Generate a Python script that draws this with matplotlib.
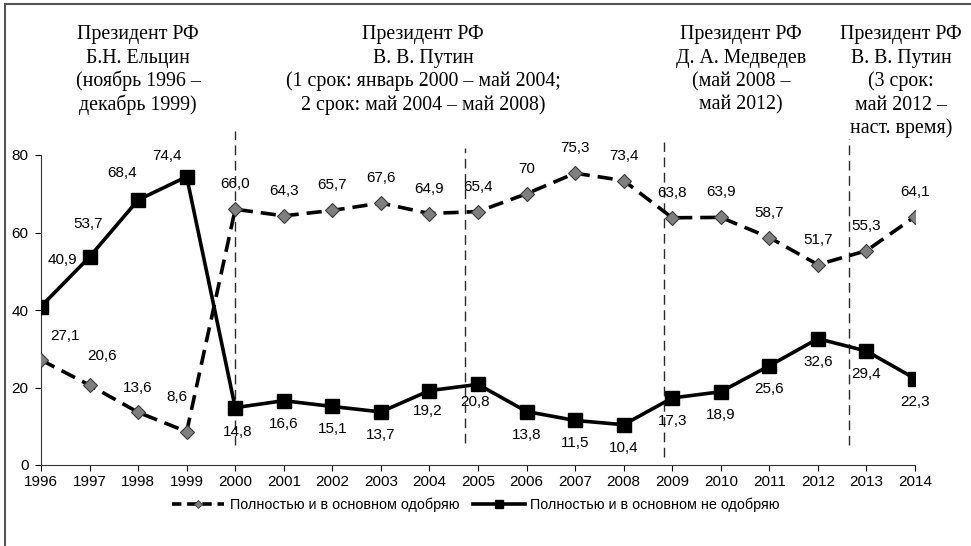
import matplotlib
matplotlib.use("Agg")
import matplotlib.pyplot as plt
from matplotlib.lines import Line2D
import numpy as np

years = ["1996", "1997", "1998", "1999", "2000", "2001", "2002", "2003", "2004", "2005",
         "2006", "2007", "2008", "2009", "2010", "2011", "2012", "2013", "2014"]
approve = [27.1, 20.6, 13.6, 8.6, 66.0, 64.3, 65.7, 67.6, 64.9, 65.4,
           70.0, 75.3, 73.4, 63.8, 63.9, 58.7, 51.7, 55.3, 64.1]
approve_labels = ["27,1", "20,6", "13,6", "8,6", "66,0", "64,3", "65,7", "67,6", "64,9", "65,4",
                  "70", "75,3", "73,4", "63,8", "63,9", "58,7", "51,7", "55,3", "64,1"]
disapprove = [40.9, 53.7, 68.4, 74.4, 14.8, 16.6, 15.1, 13.7, 19.2, 20.8,
              13.8, 11.5, 10.4, 17.3, 18.9, 25.6, 32.6, 29.4, 22.3]
disapprove_labels = ["40,9", "53,7", "68,4", "74,4", "14,8", "16,6", "15,1", "13,7", "19,2", "20,8",
                     "13,8", "11,5", "10,4", "17,3", "18,9", "25,6", "32,6", "29,4", "22,3"]
series_names = ["Полностью и в основном одобряю", "Полностью и в основном не одобряю"]

# term boundaries (in year-index units) with vertical extents
boundaries = [4.0, 8.73, 12.83, 16.64]
boundary_top = [86.2, 81.8, 83.4, 84.1]
boundary_bottom = [5.2, 5.7, 2.1, 5.2]

header_blocks = [
    ["Президент РФ", "Б.Н. Ельцин", "(ноябрь 1996 –", "декабрь 1999)"],
    ["Президент РФ", "В. В. Путин", "(1 срок: январь 2000 – май 2004;", "2 срок: май 2004 – май 2008)"],
    ["Президент РФ", "Д. А. Медведев", "(май 2008 –", "май 2012)"],
    ["Президент РФ", "В. В. Путин", "(3 срок:", "май 2012 –", "наст. время)"],
]
header_x = [138, 423, 741, 901]

W, H = 971, 546
fig = plt.figure(figsize=(W / 100, H / 100), dpi=100)
ax = fig.add_axes([41 / W, 1 - 465 / H, 874 / W, 310 / H])

sans = "Liberation Sans"
serif = "Liberation Serif"
fs = 11

x = np.arange(len(years))
ax.plot(x, approve, color="black", lw=2.6, dashes=(4.2, 2.2), marker="D", ms=6.8,
        markerfacecolor="#7f7f7f", markeredgecolor="#3a3a3a", markeredgewidth=0.8,
        zorder=3)
ax.plot(x, disapprove, color="black", lw=2.6, marker="s", ms=10,
        markerfacecolor="black", markeredgecolor="black", zorder=3)

for xb, yt, yb in zip(boundaries, boundary_top, boundary_bottom):
    ax.plot([xb, xb], [yb, yt], color="#2a2a2a", lw=1.0, dashes=(7, 4), clip_on=False, zorder=2)

# label offsets in pixels
ap_off = [(24, 24), (13, 29), (0, 24), (-10, 35)] + [(0, 25)] * 15
dis_off = [(21, 47), (-1, 33), (-16, 27), (-20, 21), (2, -24), (0, -23), (0, -23), (0, -23),
           (-2, -20), (-3, -18)] + [(0, -23)] * 9
for i in range(len(years)):
    ax.annotate(approve_labels[i], (x[i], approve[i]), xytext=ap_off[i], textcoords="offset pixels",
                ha="center", va="center", fontsize=fs, family=sans, zorder=4)
    ax.annotate(disapprove_labels[i], (x[i], disapprove[i]), xytext=dis_off[i], textcoords="offset pixels",
                ha="center", va="center", fontsize=fs, family=sans, zorder=4)

ax.set_xlim(0, len(years) - 1)
ax.set_ylim(0, 80)
ax.set_xticks(x)
ax.set_xticklabels(years, family=sans, fontsize=fs)
ax.set_yticks([0, 20, 40, 60, 80])
ax.set_yticklabels(["0", "20", "40", "60", "80"], family=sans, fontsize=fs)
ax.tick_params(axis="x", direction="out", length=4, width=0.8, pad=3)
ax.tick_params(axis="y", direction="out", length=4, width=0.8, pad=5)
for s in ["top", "right"]:
    ax.spines[s].set_visible(False)
for s in ["left", "bottom"]:
    ax.spines[s].set_linewidth(0.8)
    ax.spines[s].set_color("#333333")

h1 = Line2D([], [], color="black", lw=2.6, dashes=(2.6, 1.6), marker="D", ms=4.5,
            markerfacecolor="#7f7f7f", markeredgecolor="#3a3a3a", markeredgewidth=0.6)
h2 = Line2D([], [], color="black", lw=2.6, marker="s", ms=6,
            markerfacecolor="black", markeredgecolor="black")
leg = fig.legend([h1, h2], series_names, loc="center", bbox_to_anchor=(476 / W, 1 - 505 / H), ncol=2,
                 frameon=False, prop={"family": sans, "size": 10.4}, handlelength=3.6,
                 handletextpad=0.4, columnspacing=0.9, numpoints=1)

# headers
for lines, hx in zip(header_blocks, header_x):
    for j, t in enumerate(lines):
        fig.text(hx / W, 1 - (39 + 23.6 * j) / H, t, ha="center", va="baseline",
                 family=serif, fontsize=14.3)

# figure border (left and top)
fig.add_artist(Line2D([5 / W, 5 / W], [0, 1 - 4 / H], color="#555555", lw=1.5, transform=fig.transFigure))
fig.add_artist(Line2D([5 / W, 1], [1 - 4 / H, 1 - 4 / H], color="#555555", lw=1.5, transform=fig.transFigure))

fig.savefig("out.png", dpi=100)
